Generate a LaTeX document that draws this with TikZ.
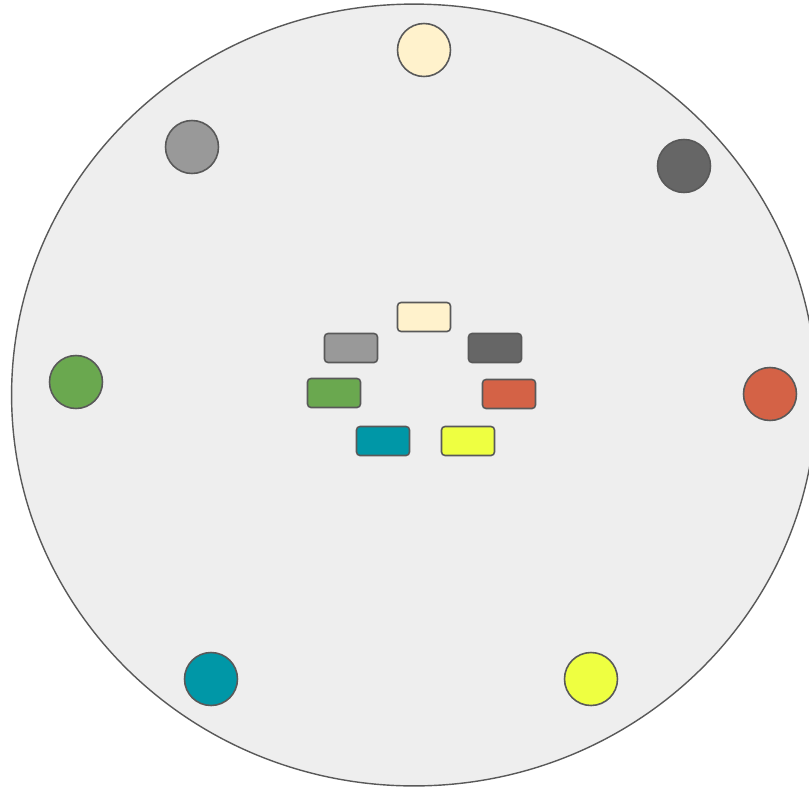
\documentclass[tikz,border=0pt]{standalone}
\usepackage{xcolor}
\usepackage{tikz}
\usetikzlibrary{shapes.geometric}

\definecolor{cream}{HTML}{FFF2CC}
\definecolor{lgray}{HTML}{999999}
\definecolor{dgray}{HTML}{666666}
\definecolor{leaf}{HTML}{6AA84F}
\definecolor{brick}{HTML}{D46246}
\definecolor{teal2}{HTML}{0097A7}
\definecolor{lime}{HTML}{EEFF41}
\definecolor{edge}{HTML}{595959}
\definecolor{board}{HTML}{EEEEEE}

\begin{document}
\begin{tikzpicture}[
  x=0.02cm, y=-0.02cm,
  seat/.style={draw=edge,line width=0.9pt,circle,inner sep=0pt,minimum size=1.06cm},
  chip/.style={draw=edge,line width=0.9pt,rounded corners=2pt,inner sep=0pt,minimum width=1.06cm,minimum height=0.58cm}
]
  \useasboundingbox (0,0) rectangle (809,789);

  \node[draw=edge,line width=0.8pt,fill=board,ellipse,inner sep=0pt,
        minimum width=16.1cm,minimum height=15.64cm] (table) at (414,395) {};

  % outer seats
  \node[seat,fill=cream] (s1) at (424,50)  {};
  \node[seat,fill=dgray] (s2) at (684,166) {};
  \node[seat,fill=brick] (s3) at (770,394) {};
  \node[seat,fill=lime]  (s4) at (591,679) {};
  \node[seat,fill=teal2] (s5) at (211,679) {};
  \node[seat,fill=leaf]  (s6) at (76,382)  {};
  \node[seat,fill=lgray] (s7) at (192,147) {};

  % inner chips
  \node[chip,fill=cream] (c1) at (424,317) {};
  \node[chip,fill=dgray] (c2) at (495,348) {};
  \node[chip,fill=brick] (c3) at (509,394) {};
  \node[chip,fill=lime]  (c4) at (468,441) {};
  \node[chip,fill=teal2] (c5) at (383,441) {};
  \node[chip,fill=leaf]  (c6) at (334,393) {};
  \node[chip,fill=lgray] (c7) at (351,348) {};
\end{tikzpicture}
\end{document}
